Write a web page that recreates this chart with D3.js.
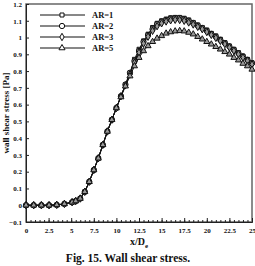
<!DOCTYPE html>
<meta charset="utf-8">
<title>Wall shear stress</title>
<script src="https://d3js.org/d3.v7.min.js"></script>
<style>
  body { margin: 0; background: #fff; }
  text { font-family: "Liberation Serif", "Times New Roman", serif; font-weight: bold; fill: #111; }
</style>
<body>
<script>

// x/De positions of the data points
const xs = [0, 0.85, 1.7, 2.55, 3.4, 4.25, 5.1, 5.5, 6, 6.5, 7, 7.5, 8, 8.5, 9, 9.5, 10,
  10.5, 11, 11.5, 12, 12.5, 13, 13.5, 14, 14.5, 15, 15.5, 16, 16.5, 17, 17.5, 18, 18.5,
  19, 19.5, 20, 20.5, 21, 21.5, 22, 22.5, 23, 23.5, 24, 24.5, 25];

const ar1 = [0, 0, 0, 0, 0.002, 0.008, 0.018, 0.025, 0.04, 0.08, 0.14, 0.21, 0.28, 0.36, 0.44, 0.51, 0.58,
  0.65, 0.72, 0.79, 0.87, 0.93, 0.98, 1.02, 1.06, 1.085, 1.10, 1.11, 1.118, 1.12, 1.12, 1.115, 1.105, 1.09,
  1.075, 1.06, 1.045, 1.025, 1.01, 0.99, 0.97, 0.95, 0.93, 0.91, 0.89, 0.87, 0.85];
const ar2 = [0, 0, 0, 0, 0.002, 0.008, 0.018, 0.025, 0.04, 0.08, 0.14, 0.21, 0.28, 0.36, 0.44, 0.51, 0.58,
  0.65, 0.72, 0.79, 0.86, 0.92, 0.975, 1.015, 1.05, 1.08, 1.095, 1.105, 1.113, 1.116, 1.116, 1.11, 1.10, 1.087,
  1.072, 1.057, 1.04, 1.022, 1.005, 0.986, 0.967, 0.947, 0.927, 0.907, 0.887, 0.867, 0.847];
const ar3 = [0, 0, 0, 0, 0.002, 0.008, 0.018, 0.025, 0.04, 0.08, 0.14, 0.21, 0.28, 0.36, 0.44, 0.51, 0.58,
  0.65, 0.715, 0.78, 0.85, 0.91, 0.965, 1.005, 1.04, 1.068, 1.085, 1.096, 1.103, 1.106, 1.105, 1.10, 1.09, 1.078,
  1.064, 1.05, 1.033, 1.016, 0.998, 0.98, 0.961, 0.941, 0.921, 0.901, 0.881, 0.861, 0.84];
const ar5 = [0, 0, 0, 0, 0.002, 0.008, 0.018, 0.025, 0.04, 0.08, 0.14, 0.21, 0.28, 0.36, 0.44, 0.51, 0.58,
  0.645, 0.71, 0.77, 0.83, 0.88, 0.92, 0.95, 0.975, 0.995, 1.01, 1.025, 1.033, 1.038, 1.04, 1.038, 1.03, 1.02,
  1.005, 0.99, 0.975, 0.96, 0.945, 0.93, 0.915, 0.9, 0.88, 0.865, 0.845, 0.83, 0.81];

const seriesNames = ["AR=1", "AR=2", "AR=3", "AR=5"];
const seriesValues = [ar1, ar2, ar3, ar5];
const symbols = [d3.symbolSquare, d3.symbolCircle, d3.symbolDiamond, d3.symbolTriangle];
const symSizes = [16, 22, 16, 16];

const xTicks = [0, 2.5, 5, 7.5, 10, 12.5, 15, 17.5, 20, 22.5, 25];
const xTickLabels = ["0", "2.5", "5", "7.5", "10", "12.5", "15", "17.5", "20", "22.5", "25"];
const yTicks = [-0.1, 0, 0.1, 0.2, 0.3, 0.4, 0.5, 0.6, 0.7, 0.8, 0.9, 1, 1.1, 1.2];

const width = 255, height = 266;
const margin = { top: 4, right: 3, bottom: 44, left: 26 };
const iw = width - margin.left - margin.right;
const ih = height - margin.top - margin.bottom;

const svg = d3.select("body").append("svg")
  .attr("width", width)
  .attr("height", height);

const g = svg.append("g")
  .attr("transform", `translate(${margin.left},${margin.top})`);

const x = d3.scaleLinear().domain([0, 25]).range([0, iw]);
const y = d3.scaleLinear().domain([-0.1, 1.2]).range([ih, 0]);

// frame
g.append("rect")
  .attr("x", 0).attr("y", 0)
  .attr("width", iw).attr("height", ih)
  .attr("fill", "none")
  .attr("stroke", "#666")
  .attr("stroke-width", 1.5);

// x axis: major + minor ticks pointing inward
const xAxis = g.append("g")
  .attr("transform", `translate(0,${ih})`)
  .call(d3.axisBottom(x).tickValues(d3.range(0, 25.01, 0.5)).tickSize(-2).tickFormat(""));
xAxis.select(".domain").attr("stroke", "#222");
g.append("g")
  .attr("transform", `translate(0,${ih})`)
  .call(d3.axisBottom(x).tickValues(xTicks).tickSize(-4)
    .tickFormat((d, i) => xTickLabels[i]).tickPadding(6))
  .call(a => a.select(".domain").remove())
  .call(a => a.selectAll("text").style("font-size", "7px"));

// y axis
g.append("g")
  .call(d3.axisLeft(y).tickValues(yTicks).tickSize(-3).tickPadding(4)
    .tickFormat(d => d3.format("")(+d.toFixed(1))))
  .call(a => a.select(".domain").attr("stroke", "#222"))
  .call(a => a.selectAll("text").style("font-size", "7px"));

g.selectAll(".tick line").attr("stroke", "#222");

// series
const line = d3.line().x((d, i) => x(xs[i])).y(d => y(d));

seriesValues.forEach((vals, k) => {
  g.append("path")
    .datum(vals)
    .attr("d", line)
    .attr("fill", "none")
    .attr("stroke", "#111")
    .attr("stroke-width", 1);

  g.selectAll(null)
    .data(vals)
    .enter().append("path")
    .attr("transform", (d, i) => `translate(${x(xs[i])},${y(d)})`)
    .attr("d", d3.symbol().type(symbols[k]).size(symSizes[k]))
    .attr("fill", "#999")
    .attr("stroke", "#111")
    .attr("stroke-width", 1);
});

// legend
const legend = g.append("g").attr("transform", "translate(14,11)");
seriesNames.forEach((name, k) => {
  const row = legend.append("g").attr("transform", `translate(0,${k * 11})`);
  row.append("line").attr("x1", 0).attr("x2", 45)
    .attr("stroke", "#111").attr("stroke-width", 1);
  row.append("path")
    .attr("transform", "translate(22,0)")
    .attr("d", d3.symbol().type(symbols[k]).size(symSizes[k]))
    .attr("fill", "#fff").attr("stroke", "#111").attr("stroke-width", 1);
  row.append("text").attr("x", 52).attr("y", 3)
    .style("font-size", "8.5px").text(name);
});

// axis titles
const xt = svg.append("text")
  .attr("x", margin.left + iw / 2)
  .attr("y", 245)
  .attr("text-anchor", "middle")
  .style("font-size", "10px");
xt.append("tspan").text("x/D");
xt.append("tspan").attr("dy", 3).style("font-size", "7px").text("e");

svg.append("text")
  .attr("transform", `translate(9,${margin.top + y(0.55)}) rotate(-90)`)
  .attr("text-anchor", "middle")
  .style("font-size", "9px")
  .text("wall shear stress [Pa]");

// caption
svg.append("text")
  .attr("x", 128)
  .attr("y", 262)
  .attr("text-anchor", "middle")
  .style("font-size", "11.5px")
  .text("Fig. 15. Wall shear stress.");

</script>
</body>
